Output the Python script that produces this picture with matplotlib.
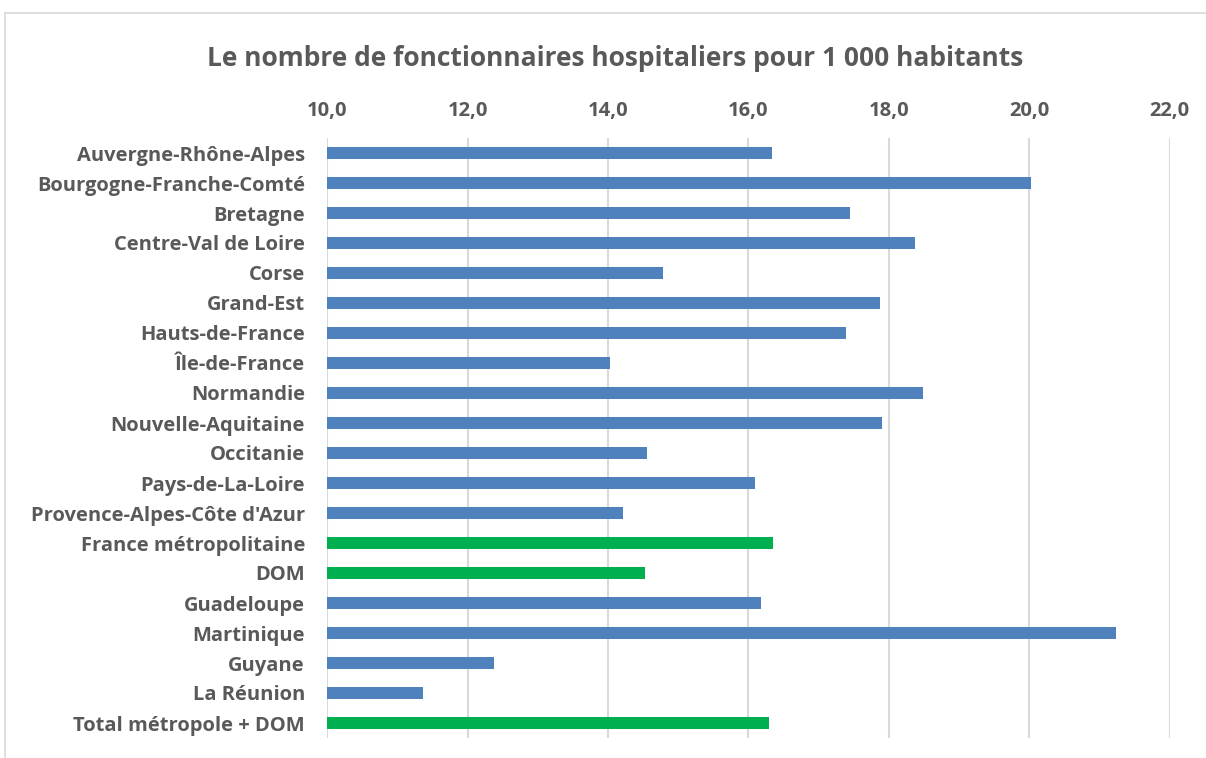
import matplotlib.pyplot as plt
from matplotlib.lines import Line2D

regions = ["Auvergne-Rhône-Alpes", "Bourgogne-Franche-Comté", "Bretagne",
           "Centre-Val de Loire", "Corse", "Grand-Est", "Hauts-de-France",
           "Île-de-France", "Normandie", "Nouvelle-Aquitaine", "Occitanie",
           "Pays-de-La-Loire", "Provence-Alpes-Côte d'Azur",
           "France métropolitaine", "DOM", "Guadeloupe", "Martinique",
           "Guyane", "La Réunion", "Total métropole + DOM"]
values = [16.34, 20.03, 17.45, 18.37, 14.79, 17.88, 17.39, 14.03, 18.49,
          17.90, 14.55, 16.09, 14.22, 16.35, 14.53, 16.18, 21.24, 12.37,
          11.36, 16.29]
totals = ["France métropolitaine", "DOM", "Total métropole + DOM"]

blue = "#4f81bd"
green = "#00b050"
grey = "#595959"

plt.rcParams['font.family'] = ['Open Sans', 'DejaVu Sans']

fig = plt.figure(figsize=(12.06, 7.58), dpi=100)
ax = fig.add_axes([327.2 / 1206, 20 / 758, (1169.5 - 327.2) / 1206, 600 / 758])

colors = [green if r in totals else blue for r in regions]
ypos = list(range(len(regions)))
ax.barh(ypos, [v - 10 for v in values], left=10, height=0.37, color=colors, zorder=3)

ax.set_ylim(len(regions) - 0.5, -0.5)
ax.set_xlim(10, 22)
ax.set_xticks([10, 12, 14, 16, 18, 20, 22])
ax.set_xticklabels(["10,0", "12,0", "14,0", "16,0", "18,0", "20,0", "22,0"])
ax.xaxis.tick_top()
ax.set_yticks(ypos)
ax.set_yticklabels(regions)
ax.tick_params(axis='both', length=0, labelsize=14.5, labelcolor=grey)
ax.tick_params(axis='x', pad=12.5)
ax.tick_params(axis='y', pad=16)
for lbl in ax.get_xticklabels() + ax.get_yticklabels():
    lbl.set_fontweight('bold')
ax.grid(axis='x', color="#d9d9d9", linewidth=1.5, zorder=0)
for s in ax.spines.values():
    s.set_visible(False)

fig.text(615 / 1206, 1 - 58 / 758, "Le nombre de fonctionnaires hospitaliers pour 1 000 habitants",
         ha='center', va='center', fontsize=19, fontweight='bold', color=grey)

# light frame around the chart
fig.add_artist(Line2D([5 / 1206, 1], [1 - 13 / 758, 1 - 13 / 758], color="#d9d9d9", lw=1.2))
fig.add_artist(Line2D([5 / 1206, 5 / 1206], [0, 1 - 13 / 758], color="#d9d9d9", lw=1.2))

fig.savefig("out.png", dpi=100)
